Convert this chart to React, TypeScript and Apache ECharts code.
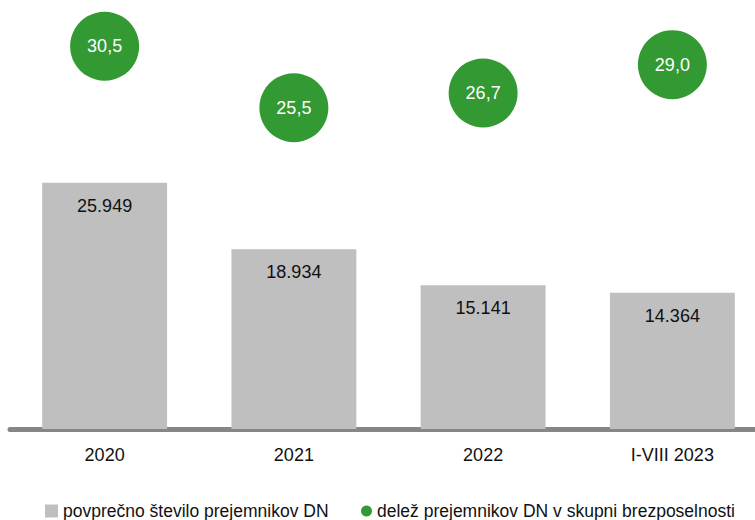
import React, { useEffect, useRef } from "react";
import * as echarts from "echarts";

const categories = ["2020", "2021", "2022", "I-VIII 2023"];
const recipients = [25949, 18934, 15141, 14364];
const share = [30.5, 25.5, 26.7, 29.0];
const barName = "povprečno število prejemnikov DN";
const dotName = "delež prejemnikov DN v skupni brezposelnosti";

const FONT = "'Liberation Sans', Arial, sans-serif";

const fmtInt = (v: number) => {
  const s = String(Math.round(v));
  return s.replace(/\B(?=(\d{3})+(?!\d))/g, ".");
};
const fmtDec = (v: number) => v.toFixed(1).replace(".", ",");

export default function App() {
  const ref = useRef<HTMLDivElement>(null);
  useEffect(() => {
    if (!ref.current) return;
    const chart = echarts.init(ref.current, null, { renderer: "svg" });
    chart.setOption({
      animation: false,
      backgroundColor: "#ffffff",
      textStyle: { fontFamily: FONT },
      grid: { left: 10, right: 1, top: 0, bottom: 91, containLabel: false },
      legend: [
        {
          data: [{ name: barName, icon: "rect" }],
          left: 40,
          top: 497,
          itemWidth: 13,
          itemHeight: 13,
          textStyle: { fontFamily: FONT, fontSize: 17.5, color: "#111111" },
        },
        {
          data: [{ name: dotName, icon: "circle" }],
          left: 356,
          top: 497,
          itemWidth: 11,
          itemHeight: 11,
          textStyle: { fontFamily: FONT, fontSize: 17.5, color: "#111111" },
        },
      ],
      xAxis: {
        type: "category",
        data: categories,
        axisLine: { show: true, lineStyle: { color: "#868686", width: 5 } },
        axisTick: { show: false },
        axisLabel: { margin: 17, fontSize: 18, color: "#111111", fontFamily: FONT },
      },
      yAxis: [
        { type: "value", min: 0, max: 45200, show: false, splitLine: { show: false } },
        { type: "value", min: -0.62, max: 34.26, show: false, splitLine: { show: false } },
      ],
      series: [
        {
          name: barName,
          type: "bar",
          data: recipients,
          barWidth: "66%",
          itemStyle: { color: "#bfbfbf" },
          label: {
            show: true,
            position: "insideTop",
            distance: 14,
            fontSize: 18,
            color: "#111111",
            fontFamily: FONT,
            formatter: (p: any) => fmtInt(p.value),
          },
          z: 1,
        },
        {
          name: dotName,
          type: "scatter",
          yAxisIndex: 1,
          data: share,
          symbol: "circle",
          symbolSize: 69,
          itemStyle: { color: "#339933", opacity: 1 },
          label: {
            show: true,
            position: "inside",
            fontSize: 18,
            color: "#ffffff",
            fontFamily: FONT,
            formatter: (p: any) => fmtDec(p.value),
          },
        },
      ],
    });
    return () => chart.dispose();
  }, []);
  return (
    <div style={{ width: 755, height: 520, position: "absolute", left: 0, top: 0, overflow: "hidden", background: "#ffffff" }}>
      <div ref={ref} style={{ width: 768, height: 520, position: "absolute", left: 0, top: 0 }} />
    </div>
  );
}
